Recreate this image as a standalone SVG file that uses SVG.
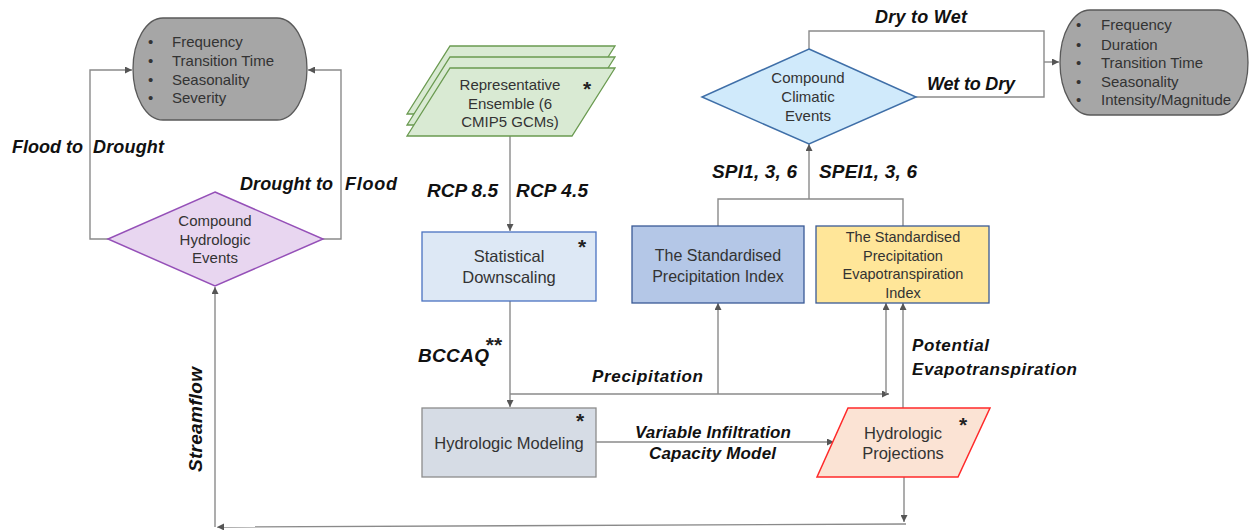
<svg xmlns="http://www.w3.org/2000/svg" width="1250" height="532" viewBox="0 0 1250 532">
<defs>
<marker id="ah" viewBox="0 0 8 8" refX="8" refY="4" markerWidth="7" markerHeight="7" markerUnits="userSpaceOnUse" orient="auto">
<path d="M0,0 L8,4 L0,8 Z" fill="#555"/>
</marker>
<style>
.t{font-family:"Liberation Sans",Arial,sans-serif;fill:#333;text-anchor:middle}
.b{font-family:"Liberation Sans",Arial,sans-serif;fill:#333;font-size:15px}
.l{font-family:"Liberation Sans",Arial,sans-serif;fill:#111;font-weight:bold;font-style:italic;font-size:17px}
.l18{font-size:18px}
.l19{font-size:19px}
.st{font-family:"Liberation Sans",Arial,sans-serif;fill:#222;font-weight:bold;font-size:21px;text-anchor:middle}
.c{fill:none;stroke:#8a8a8a;stroke-width:1.4}
.a{marker-end:url(#ah)}
</style>
</defs>
<rect width="1250" height="532" fill="#fff"/>

<g id="connectors">
<path class="c a" d="M510,136 V231"/>
<path class="c a" d="M510,301 V407"/>
<path class="c a" d="M510,394 H889"/>
<path class="c a" d="M718,394 V303"/>
<path class="c a" d="M886,394 V303"/>
<path class="c a" d="M596,442 H834"/>
<path class="c a" d="M903,408 V303"/>
<path class="c a" d="M904,477 V522"/>
<path class="c a" d="M906,524 L217,527"/>
<path class="c a" d="M215,527 V287"/>
<path class="c a" d="M108,239 H90 V70 H132"/>
<path class="c a" d="M323,239 H341 V70 H308"/>
<path class="c" d="M718,226 V199 H903 V226"/>
<path class="c a" d="M809,199 V144"/>
<path class="c" d="M809,49 V31 H1044 V97 H916"/>
<path class="c a" d="M1044,62 H1059"/>
<text class="l l18" x="12" y="153" textLength="71">Flood to</text>
<text class="l l18" x="93" y="153" textLength="71">Drought</text>
<text class="l l18" x="240" y="190" textLength="93">Drought to</text>
<text class="l l18" x="345" y="190" textLength="52">Flood</text>
<text class="l l19" x="427" y="197" textLength="71">RCP 8.5</text>
<text class="l l19" x="516" y="197" textLength="72">RCP 4.5</text>
<text class="l l19" x="418" y="362" textLength="71">BCCAQ</text>
<text class="st" x="494" y="352">**</text>
<text class="l" x="592" y="382" textLength="111">Precipitation</text>
<text class="l" x="635" y="438" textLength="156">Variable Infiltration</text>
<text class="l" x="649" y="459" textLength="127">Capacity Model</text>
<text class="l" x="912" y="351" textLength="77">Potential</text>
<text class="l" x="912" y="375" textLength="165">Evapotranspiration</text>
<text class="l l19" x="712" y="178" textLength="85">SPI1, 3, 6</text>
<text class="l l19" x="819" y="178" textLength="98">SPEI1, 3, 6</text>
<text class="l l18" x="875" y="23" textLength="92">Dry to Wet</text>
<text class="l l18" x="927" y="90" textLength="88">Wet to Dry</text>
<text class="l l19" transform="translate(202,472) rotate(-90)" textLength="105">Streamflow</text>
</g>

<g id="hydro-metrics">
<path d="M163,18 H277 A30,51 0 0 1 277,120 H163 A30,51 0 0 1 163,18 Z" fill="#a6a6a6" stroke="#595959" stroke-width="1.3"/>
<text class="b" x="148" y="47">•</text><text class="b" x="172" y="47">Frequency</text>
<text class="b" x="148" y="66">•</text><text class="b" x="172" y="66">Transition Time</text>
<text class="b" x="148" y="85">•</text><text class="b" x="172" y="85">Seasonality</text>
<text class="b" x="148" y="103">•</text><text class="b" x="172" y="103">Severity</text>
</g>

<g id="hydro-events">
<polygon points="215,192 323,239 215,286 108,239" fill="#e8d6f0" stroke="#9550b8" stroke-width="1.5"/>
<text class="t" font-size="15" x="215" y="226">Compound</text>
<text class="t" font-size="15" x="215" y="245">Hydrologic</text>
<text class="t" font-size="15" x="215" y="263">Events</text>
</g>

<g id="ensemble">
<polygon points="450,46 615,46 572,114 407,114" fill="#d9ead3" stroke="#6a9a50" stroke-width="1.3"/>
<polygon points="450,57 615,57 572,125 407,125" fill="#d9ead3" stroke="#6a9a50" stroke-width="1.3"/>
<polygon points="450,68 615,68 572,136 407,136" fill="#d9ead3" stroke="#6a9a50" stroke-width="1.3"/>
<text class="t" font-size="15" x="510" y="90">Representative</text>
<text class="t" font-size="15" x="510" y="109">Ensemble (6</text>
<text class="t" font-size="15" x="510" y="127">CMIP5 GCMs)</text>
<text class="st" x="587" y="96">*</text>
</g>

<g id="downscaling">
<rect x="422" y="232" width="174" height="69" fill="#dde8f5" stroke="#4a72c0" stroke-width="1.3"/>
<text class="t" font-size="16.5" x="509" y="262">Statistical</text>
<text class="t" font-size="16.5" x="509" y="283">Downscaling</text>
<text class="st" x="582" y="254">*</text>
</g>

<g id="modeling">
<rect x="422" y="408" width="174" height="69" fill="#d6dce5" stroke="#8c8c8c" stroke-width="1.3"/>
<text class="t" font-size="16.5" x="509" y="449">Hydrologic Modeling</text>
<text class="st" x="580" y="428">*</text>
</g>

<g id="projections">
<polygon points="848,408 990,408 958,477 817,477" fill="#fbe3d4" stroke="#ff2a2a" stroke-width="1.5"/>
<text class="t" font-size="16.5" x="903" y="439">Hydrologic</text>
<text class="t" font-size="16.5" x="903" y="459">Projections</text>
<text class="st" x="963" y="432">*</text>
</g>

<g id="spi">
<rect x="632" y="226" width="172" height="77" fill="#b4c7e7" stroke="#3a5a96" stroke-width="1.3"/>
<text class="t" font-size="16" x="718" y="261">The Standardised</text>
<text class="t" font-size="16" x="718" y="282">Precipitation Index</text>
</g>

<g id="spei">
<rect x="816" y="226" width="173" height="77" fill="#ffe699" stroke="#3a5a96" stroke-width="1.3"/>
<text class="t" font-size="14.5" x="903" y="242">The Standardised</text>
<text class="t" font-size="14.5" x="903" y="261">Precipitation</text>
<text class="t" font-size="14.5" x="903" y="279">Evapotranspiration</text>
<text class="t" font-size="14.5" x="903" y="298">Index</text>
</g>

<g id="climatic-events">
<polygon points="809,49 916,97 809,144 702,97" fill="#d0eafb" stroke="#3f6fa8" stroke-width="1.5"/>
<text class="t" font-size="15" x="808" y="83">Compound</text>
<text class="t" font-size="15" x="808" y="102">Climatic</text>
<text class="t" font-size="15" x="808" y="121">Events</text>
</g>

<g id="climatic-metrics">
<path d="M1090,10 H1218 A30,52.5 0 0 1 1218,115 H1090 A30,52.5 0 0 1 1090,10 Z" fill="#a6a6a6" stroke="#595959" stroke-width="1.3"/>
<text class="b" x="1076" y="30">•</text><text class="b" x="1101" y="30">Frequency</text>
<text class="b" x="1076" y="50">•</text><text class="b" x="1101" y="50">Duration</text>
<text class="b" x="1076" y="68">•</text><text class="b" x="1101" y="68">Transition Time</text>
<text class="b" x="1076" y="87">•</text><text class="b" x="1101" y="87">Seasonality</text>
<text class="b" x="1076" y="105">•</text><text class="b" x="1101" y="105">Intensity/Magnitude</text>
</g>
</svg>
